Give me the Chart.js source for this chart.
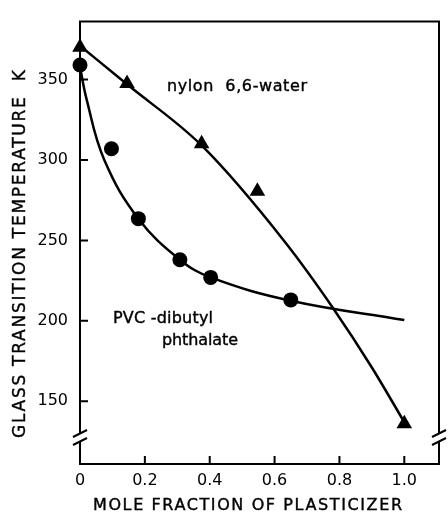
<!DOCTYPE html>
<html>
<head>
<meta charset="utf-8">
<script src="https://cdn.jsdelivr.net/npm/chart.js@4.4.1/dist/chart.umd.min.js"></script>
<style>
  html, body { margin: 0; padding: 0; background: #fff; }
  #wrap { width: 448px; height: 514px; }
</style>
</head>
<body>
<div id="wrap"><canvas id="c" width="448" height="514"></canvas></div>
<script>
// ---- data ----
const nylonX = [0, 0.145, 0.375, 0.547, 1.0];
const nylonY = [370, 347.5, 310, 280.5, 136];
const pvcX = [0, 0.097, 0.18, 0.308, 0.403, 0.65];
const pvcY = [359, 307, 263.5, 238, 227, 213];
const nylonCurveX = [0, 0.145, 0.375, 0.632, 0.78, 0.9, 1.0];
const nylonCurveY = [371, 347, 309, 249, 208, 171, 137];
const pvcCurveX = [0, 0.02, 0.075, 0.18, 0.308, 0.403, 0.65, 1.0];
const pvcCurveY = [358, 338, 300, 263.5, 238, 227, 212.5, 200.5];
const xTicks = [0, 0.2, 0.4, 0.6, 0.8, 1.0];
const xTickLabels = ['0', '0.2', '0.4', '0.6', '0.8', '1.0'];
const yTicks = [150, 200, 250, 300, 350];
const xTitle = 'MOLE FRACTION OF PLASTICIZER';
const yTitle = 'GLASS TRANSITION TEMPERATURE  K';
const nylonLabel = 'nylon  6,6-water';
const pvcLabel1 = 'PVC -dibutyl';
const pvcLabel2 = 'phthalate';

const FONT = '"DejaVu Sans", sans-serif';
const pts = (xs, ys) => xs.map((x, i) => ({ x: x, y: ys[i] }));

const decor = {
  id: 'decor',
  afterDatasetsDraw(chart) {
    const ctx = chart.ctx;
    const a = chart.chartArea;
    const xs = chart.scales.x, ys = chart.scales.y;
    ctx.save();
    ctx.strokeStyle = '#000';
    ctx.lineWidth = 2;
    // frame
    ctx.beginPath();
    ctx.moveTo(a.left, a.top); ctx.lineTo(a.right, a.top);
    ctx.lineTo(a.right, a.bottom); ctx.lineTo(a.left, a.bottom); ctx.closePath();
    ctx.stroke();
    // inward ticks
    ctx.beginPath();
    yTicks.forEach(v => { const p = ys.getPixelForValue(v); ctx.moveTo(a.left, p); ctx.lineTo(a.left + 8, p); });
    xTicks.forEach(v => { const p = xs.getPixelForValue(v); ctx.moveTo(p, a.bottom); ctx.lineTo(p, a.bottom - 8); });
    ctx.stroke();
    // axis breaks
    const by = a.bottom - 26;
    [a.left, a.right].forEach(bx => {
      ctx.fillStyle = '#fff';
      ctx.fillRect(bx - 3, by - 4, 6, 8);
      ctx.beginPath();
      ctx.moveTo(bx - 7, by - 1); ctx.lineTo(bx + 7, by - 8);
      ctx.moveTo(bx - 7, by + 7); ctx.lineTo(bx + 7, by);
      ctx.stroke();
    });
    // texts
    ctx.fillStyle = '#000';
    ctx.textBaseline = 'middle';
    ctx.lineWidth = 0.4;
    const spaced = (txt, x, y, w, size) => {
      ctx.font = size + 'px ' + FONT;
      ctx.letterSpacing = '0px';
      const m = ctx.measureText(txt).width;
      const sp = (w - m) / (txt.length - 1);
      ctx.letterSpacing = sp + 'px';
      ctx.textAlign = 'left';
      ctx.fillText(txt, x, y);
      ctx.strokeText(txt, x, y);
      ctx.letterSpacing = '0px';
    };
    spaced(xTitle, 93, 506, 309, 16);
    ctx.save();
    ctx.translate(21, 438);
    ctx.rotate(-Math.PI / 2);
    spaced(yTitle, 0, 0, 368, 17);
    ctx.restore();
    spaced(nylonLabel, 167, 87, 140, 16);
    spaced(pvcLabel1, 113, 319, 100, 16);
    spaced(pvcLabel2, 162, 341, 76, 16);
    ctx.restore();
  }
};

new Chart(document.getElementById('c'), {
  type: 'scatter',
  data: {
    datasets: [
      { data: pts(nylonCurveX, nylonCurveY), showLine: true, pointRadius: 0, borderColor: '#000', borderWidth: 2.5, cubicInterpolationMode: 'monotone', fill: false },
      { data: pts(pvcCurveX, pvcCurveY), showLine: true, pointRadius: 0, borderColor: '#000', borderWidth: 2.5, tension: 0.4, fill: false },
      { data: pts(nylonX, nylonY), showLine: false, pointStyle: 'triangle', pointRadius: 9, backgroundColor: '#000', borderColor: '#000', borderWidth: 0 },
      { data: pts(pvcX, pvcY), showLine: false, pointStyle: 'circle', pointRadius: 7.5, backgroundColor: '#000', borderColor: '#000', borderWidth: 0 }
    ]
  },
  options: {
    responsive: false,
    animation: false,
    clip: false,
    layout: { padding: { top: 20, right: 4, left: 0, bottom: 0 } },
    plugins: { legend: { display: false }, tooltip: { enabled: false } },
    scales: {
      x: {
        type: 'linear', min: 0, max: 1.107,
        grid: { display: false, drawTicks: false },
        border: { display: false },
        afterBuildTicks: s => { s.ticks = xTicks.map(v => ({ value: v })); },
        afterFit: s => { s.height = 50; },
        ticks: {
          padding: 7, color: '#000', font: { family: FONT, size: 16 },
          maxRotation: 0, autoSkip: false,
          callback: (v) => { const i = xTicks.indexOf(v); return i >= 0 ? xTickLabels[i] : ''; }
        }
      },
      y: {
        type: 'linear', min: 111, max: 386,
        grid: { display: false, drawTicks: false },
        border: { display: false },
        afterBuildTicks: s => { s.ticks = yTicks.map(v => ({ value: v })); },
        afterFit: s => { s.width = 80; },
        ticks: { padding: 12, color: '#000', font: { family: FONT, size: 16 }, autoSkip: false }
      }
    }
  },
  plugins: [decor]
});
</script>
</body>
</html>
